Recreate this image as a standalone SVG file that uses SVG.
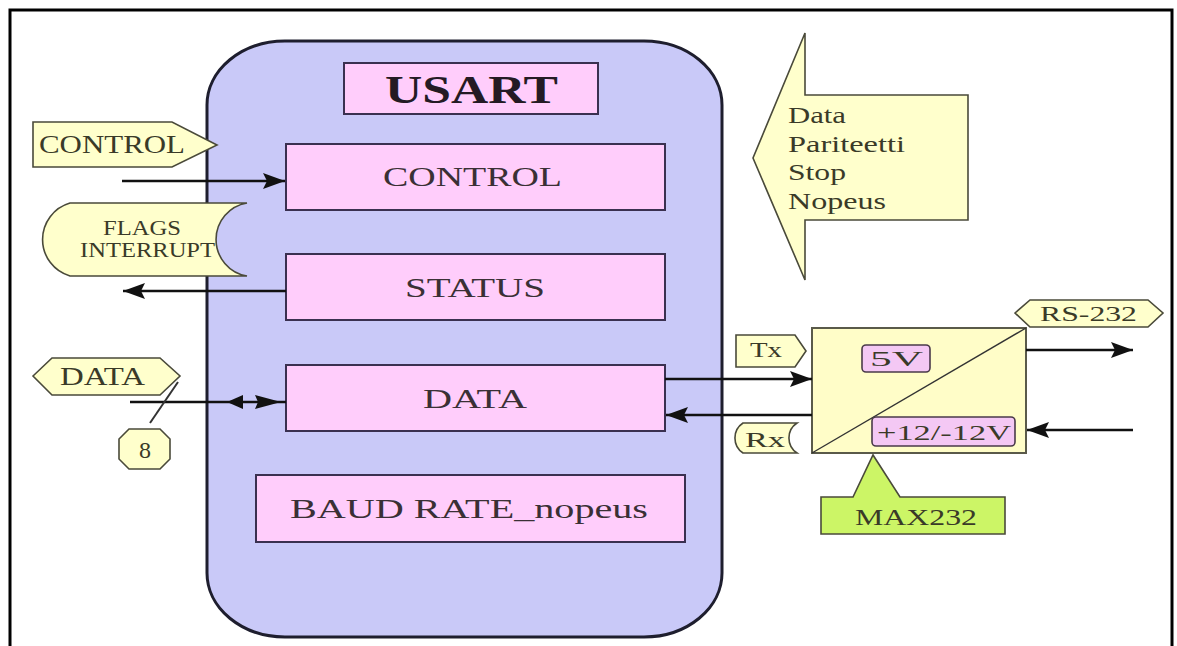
<svg xmlns="http://www.w3.org/2000/svg" width="1177" height="646" viewBox="0 0 1177 646">
  <style>
    .frame { fill: #ffffff; stroke: #000000; stroke-width: 3; }
    .usart { fill: #c9c9f8; stroke: #1e1e2e; stroke-width: 3; }
    .reg { fill: #ffcdfb; stroke: #3a3050; stroke-width: 2; }
    .tag { fill: #ffffcc; stroke: #4a4a3a; stroke-width: 1.6; }
    .volt { fill: #f4c8f4; stroke: #4a3a4a; stroke-width: 1.6; }
    .max { fill: #fffdc8; stroke: #5a5a4a; stroke-width: 2; }
    .callout { fill: #ccf566; stroke: #4a4a3a; stroke-width: 1.6; }
    .wire { fill: none; stroke: #111111; stroke-width: 2.6; }
    .thin { fill: none; stroke: #333333; stroke-width: 1.4; }
    .head { fill: #111111; }
    text { font-family: "Liberation Serif", "DejaVu Serif", serif; fill: #2e2a2a; }
    .big { font-size: 41px; font-weight: bold; fill: #241a24; }
    .lbl { font-size: 27px; fill: #3a3035; }
    .tagtxt { font-size: 25px; fill: #3a3a28; }
    .small { font-size: 21px; fill: #3a3a28; }
  </style>
  <defs>
    <marker id="arrow" markerUnits="userSpaceOnUse" markerWidth="24" markerHeight="16" refX="22" refY="8" orient="auto">
      <path d="M0,0 L22,8 L0,16 L4,8 z" fill="#111111"/>
    </marker>
  </defs>

  <!-- page frame -->
  <rect class="frame" x="10" y="10" width="1162" height="700"/>

  <!-- USART block -->
  <g id="usart">
    <rect class="usart" x="207" y="41" width="515" height="596" rx="78" ry="64"/>
  </g>
  <g id="usart-title">
    <rect class="reg" x="344" y="63" width="254" height="51"/>
    <text class="big" x="385" y="103" textLength="173" lengthAdjust="spacingAndGlyphs">USART</text>
  </g>
  <g id="reg-control">
    <rect class="reg" x="286" y="144" width="379" height="66"/>
    <text class="lbl" x="383" y="186" textLength="179" lengthAdjust="spacingAndGlyphs">CONTROL</text>
  </g>
  <g id="reg-status">
    <rect class="reg" x="286" y="254" width="379" height="66"/>
    <text class="lbl" x="405" y="297" textLength="140" lengthAdjust="spacingAndGlyphs">STATUS</text>
  </g>
  <g id="reg-data">
    <rect class="reg" x="286" y="365" width="379" height="66"/>
    <text class="lbl" x="423" y="408" textLength="104" lengthAdjust="spacingAndGlyphs">DATA</text>
  </g>
  <g id="reg-baud">
    <rect class="reg" x="256" y="475" width="429" height="67"/>
    <text class="lbl" x="290" y="518" textLength="358" lengthAdjust="spacingAndGlyphs">BAUD RATE_nopeus</text>
  </g>

  <!-- MAX232 level converter -->
  <g id="max232">
    <rect class="max" x="812" y="328" width="214" height="125"/>
    <line class="thin" x1="812" y1="453" x2="1026" y2="328"/>
    <rect class="volt" x="862" y="345" width="68" height="27" rx="4"/>
    <text class="small" x="870" y="366" textLength="53" lengthAdjust="spacingAndGlyphs">5V</text>
    <rect class="volt" x="872" y="417" width="143" height="29" rx="4"/>
    <text class="small" x="877" y="440" textLength="134" lengthAdjust="spacingAndGlyphs">+12/-12V</text>
  </g>

  <!-- connectors -->
  <g id="connectors">
    <line class="wire" x1="122" y1="181" x2="285" y2="181" marker-end="url(#arrow)"/>
    <line class="wire" x1="286" y1="291" x2="123" y2="291" marker-end="url(#arrow)"/>
    <line class="wire" x1="130" y1="402" x2="286" y2="402"/>
    <polygon class="head" points="227,402 243,395 243,409"/>
    <polygon class="head" points="281,402 255,395 258,402 255,409"/>
    <line class="thin" x1="178" y1="382" x2="150" y2="423" style="stroke-width:2"/>
    <line class="wire" x1="665" y1="379" x2="812" y2="379" marker-end="url(#arrow)"/>
    <line class="wire" x1="812" y1="415" x2="666" y2="415" marker-end="url(#arrow)"/>
    <line class="wire" x1="1026" y1="350" x2="1133" y2="350" marker-end="url(#arrow)"/>
    <line class="wire" x1="1133" y1="430" x2="1027" y2="430" marker-end="url(#arrow)"/>
  </g>

  <!-- side labels -->
  <g id="tag-control">
    <polygon class="tag" points="33,122 172,122 217,145 172,167 33,167"/>
    <text class="tagtxt" x="39" y="153" textLength="146" lengthAdjust="spacingAndGlyphs">CONTROL</text>
  </g>
  <g id="tag-flags">
    <path class="tag" d="M70,203 L247,203 A37 37 0 0 0 247,276 L70,276 A38 38 0 0 1 70,203 Z"/>
    <text class="small" x="103" y="235" textLength="78" lengthAdjust="spacingAndGlyphs">FLAGS</text>
    <text class="small" x="80" y="257" textLength="135" lengthAdjust="spacingAndGlyphs">INTERRUPT</text>
  </g>
  <g id="tag-data">
    <polygon class="tag" points="33,376 52,358 160,358 180,376 160,395 52,395"/>
    <text class="tagtxt" x="60" y="385" textLength="85" lengthAdjust="spacingAndGlyphs">DATA</text>
  </g>
  <g id="tag-width">
    <polygon class="tag" points="129,429 160,429 170,439 170,459 160,469 129,469 119,459 119,439"/>
    <text class="small" x="145" y="458" text-anchor="middle" style="font-size:24px">8</text>
  </g>
  <g id="frame-format">
    <polygon class="tag" points="805,33 805,95 968,95 968,220 805,220 805,280 753,158"/>
    <text class="small" x="788" y="123" textLength="58" lengthAdjust="spacingAndGlyphs" style="font-size:23px">Data</text>
    <text class="small" x="788" y="152" textLength="117" lengthAdjust="spacingAndGlyphs" style="font-size:23px">Pariteetti</text>
    <text class="small" x="788" y="180" textLength="58" lengthAdjust="spacingAndGlyphs" style="font-size:23px">Stop</text>
    <text class="small" x="788" y="209" textLength="98" lengthAdjust="spacingAndGlyphs" style="font-size:23px">Nopeus</text>
  </g>
  <g id="tag-tx">
    <polygon class="tag" points="736,335 795,335 806,351 795,367 736,367"/>
    <text class="small" x="750" y="357" textLength="32" lengthAdjust="spacingAndGlyphs">Tx</text>
  </g>
  <g id="tag-rx">
    <path class="tag" d="M743,423 L797,423 A18 18 0 0 0 797,453 L743,453 A18 18 0 0 1 743,423 Z"/>
    <text class="small" x="745" y="447" textLength="40" lengthAdjust="spacingAndGlyphs">Rx</text>
  </g>
  <g id="tag-rs232">
    <polygon class="tag" points="1015,313 1030,300 1148,300 1163,313 1148,327 1030,327"/>
    <text class="small" x="1040" y="321" textLength="97" lengthAdjust="spacingAndGlyphs">RS-232</text>
  </g>
  <g id="callout-max232">
    <path class="callout" d="M821,497 L853,497 L873,455 L900,497 L1005,497 L1005,534 L821,534 Z"/>
    <text class="small" x="855" y="525" textLength="122" lengthAdjust="spacingAndGlyphs" style="font-size:23px">MAX232</text>
  </g>
</svg>
